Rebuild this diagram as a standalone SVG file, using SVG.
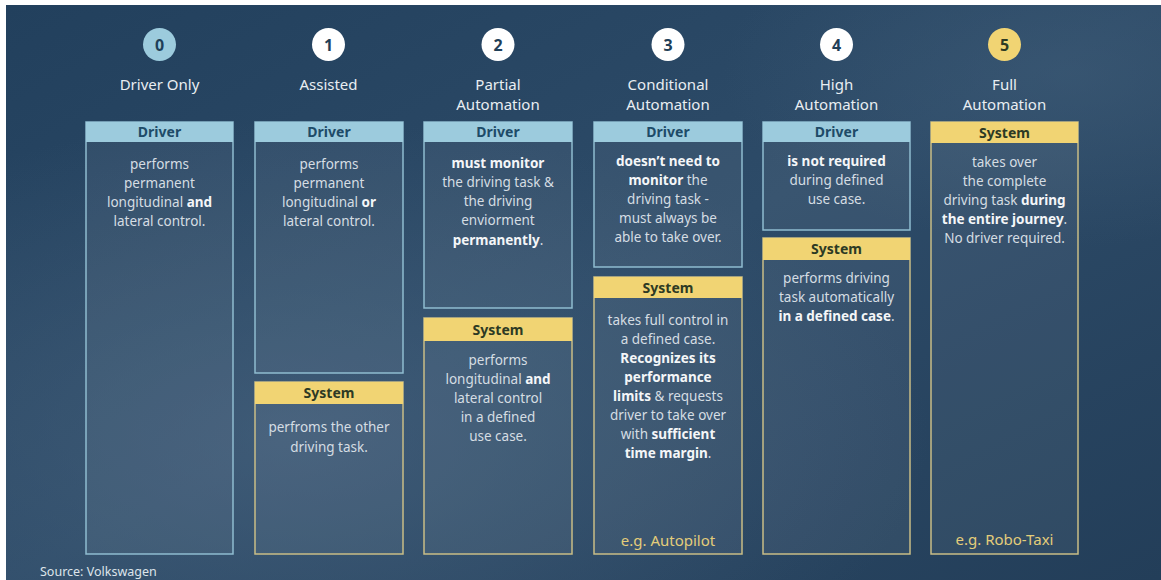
<svg xmlns="http://www.w3.org/2000/svg" width="1161" height="580" viewBox="0 0 1161 580">
<defs>
<linearGradient id="bg" x1="0" y1="0" x2="1" y2="1">
<stop offset="0" stop-color="#22405d"/>
<stop offset="0.5" stop-color="#2d4b68"/>
<stop offset="1" stop-color="#233e59"/>
</linearGradient>
<radialGradient id="glow" cx="0.25" cy="0.75" r="0.55">
<stop offset="0" stop-color="#4a6580" stop-opacity="0.6"/>
<stop offset="1" stop-color="#4a6580" stop-opacity="0"/>
</radialGradient>
<radialGradient id="glow2" cx="0.92" cy="0.12" r="0.3">
<stop offset="0" stop-color="#44617c" stop-opacity="0.45"/>
<stop offset="1" stop-color="#44617c" stop-opacity="0"/>
</radialGradient>
</defs>
<style>
text{font-family:"Noto Sans","Open Sans","Liberation Sans",sans-serif;text-anchor:middle}
.num{font-size:16px;font-weight:700;fill:#1f3f58}
.title{font-size:15px;fill:#e9eef2}
.dh{fill:#9ccbdd}
.sh{fill:#f1d473}
.dht{font-size:14px;font-weight:700;fill:#1e4b68}
.sht{font-size:14px;font-weight:700;fill:#2d3a24}
.db{fill:#ffffff;fill-opacity:0.06;stroke:#8fbcd0;stroke-width:1.5}
.sb{fill:#ffffff;fill-opacity:0.06;stroke:#c9bd86;stroke-width:1.5}
.body{font-size:13.5px;fill:#d5dde3}
.b{font-weight:700;fill:#f4f6f8}
.eg{font-size:15px;fill:#e4cd7a}
.src{font-size:12.5px;fill:#dde4ea;text-anchor:start}
</style>
<rect x="0" y="0" width="1161" height="580" fill="#ffffff"/>
<rect x="6" y="5" width="1155" height="575" fill="url(#bg)"/>
<rect x="6" y="5" width="1155" height="575" fill="url(#glow)"/>
<rect x="6" y="5" width="1155" height="575" fill="url(#glow2)"/>

<g id="connectors"/>

<g id="level0">
<circle cx="159.5" cy="44.5" r="16.5" fill="#9ccbdd"/>
<text class="num" x="159.5" y="50.5">0</text>
<text class="title" x="159.5" y="90">Driver Only</text>
<rect class="db" x="86" y="122" width="147" height="432"/>
<rect class="dh" x="86" y="122" width="147" height="20"/>
<text class="dht" x="159.5" y="137">Driver</text>
<text class="body" x="159.5" y="169">performs</text>
<text class="body" x="159.5" y="188">permanent</text>
<text class="body" x="159.5" y="207">longitudinal <tspan class="b">and</tspan></text>
<text class="body" x="159.5" y="226">lateral control.</text>
</g>

<g id="level1">
<circle cx="328.5" cy="44.5" r="16.5" fill="#ffffff"/>
<text class="num" x="328.5" y="50.5">1</text>
<text class="title" x="328.5" y="90">Assisted</text>
<rect class="db" x="255" y="122" width="148" height="251"/>
<rect class="dh" x="255" y="122" width="148" height="20"/>
<text class="dht" x="329" y="137">Driver</text>
<text class="body" x="329" y="169">performs</text>
<text class="body" x="329" y="188">permanent</text>
<text class="body" x="329" y="207">longitudinal <tspan class="b">or</tspan></text>
<text class="body" x="329" y="226">lateral control.</text>
<rect class="sb" x="255" y="382" width="148" height="172"/>
<rect class="sh" x="255" y="382" width="148" height="22"/>
<text class="sht" x="329" y="398">System</text>
<text class="body" x="329" y="432">perfroms the other</text>
<text class="body" x="329" y="452">driving task.</text>
</g>

<g id="level2">
<circle cx="498" cy="44.5" r="16.5" fill="#ffffff"/>
<text class="num" x="498" y="50.5">2</text>
<text class="title" x="498" y="90">Partial</text>
<text class="title" x="498" y="110">Automation</text>
<rect class="db" x="424" y="122" width="148" height="186"/>
<rect class="dh" x="424" y="122" width="148" height="20"/>
<text class="dht" x="498" y="137">Driver</text>
<text class="body b" x="498" y="168">must monitor</text>
<text class="body" x="498" y="187">the driving task &amp;</text>
<text class="body" x="498" y="206">the driving</text>
<text class="body" x="498" y="225">enviorment</text>
<text class="body" x="498" y="245"><tspan class="b">permanently</tspan>.</text>
<rect class="sb" x="424" y="318" width="148" height="236"/>
<rect class="sh" x="424" y="318" width="148" height="23"/>
<text class="sht" x="498" y="335">System</text>
<text class="body" x="498" y="365">performs</text>
<text class="body" x="498" y="384">longitudinal <tspan class="b">and</tspan></text>
<text class="body" x="498" y="403">lateral control</text>
<text class="body" x="498" y="422">in a defined</text>
<text class="body" x="498" y="441">use case.</text>
</g>

<g id="level3">
<circle cx="668" cy="44.5" r="16.5" fill="#ffffff"/>
<text class="num" x="668" y="50.5">3</text>
<text class="title" x="668" y="90">Conditional</text>
<text class="title" x="668" y="110">Automation</text>
<rect class="db" x="594" y="122" width="148" height="145"/>
<rect class="dh" x="594" y="122" width="148" height="20"/>
<text class="dht" x="668" y="137">Driver</text>
<text class="body b" x="668" y="166">doesn’t need to</text>
<text class="body" x="668" y="185"><tspan class="b">monitor</tspan> the</text>
<text class="body" x="668" y="204">driving task -</text>
<text class="body" x="668" y="223">must always be</text>
<text class="body" x="668" y="242">able to take over.</text>
<rect class="sb" x="594" y="277" width="148" height="277"/>
<rect class="sh" x="594" y="277" width="148" height="21"/>
<text class="sht" x="668" y="293">System</text>
<text class="body" x="668" y="325">takes full control in</text>
<text class="body" x="668" y="344">a defined case.</text>
<text class="body b" x="668" y="363">Recognizes its</text>
<text class="body b" x="668" y="382">performance</text>
<text class="body" x="668" y="401"><tspan class="b">limits</tspan> &amp; requests</text>
<text class="body" x="668" y="420">driver to take over</text>
<text class="body" x="668" y="439">with <tspan class="b">sufficient</tspan></text>
<text class="body" x="668" y="458"><tspan class="b">time margin</tspan>.</text>
<text class="eg" x="668" y="546">e.g. Autopilot</text>
</g>

<g id="level4">
<circle cx="836.5" cy="44.5" r="16.5" fill="#ffffff"/>
<text class="num" x="836.5" y="50.5">4</text>
<text class="title" x="836.5" y="90">High</text>
<text class="title" x="836.5" y="110">Automation</text>
<rect class="db" x="763" y="122" width="147" height="108"/>
<rect class="dh" x="763" y="122" width="147" height="20"/>
<text class="dht" x="836.5" y="137">Driver</text>
<text class="body b" x="836.5" y="166">is not required</text>
<text class="body" x="836.5" y="185">during defined</text>
<text class="body" x="836.5" y="204">use case.</text>
<rect class="sb" x="763" y="238" width="147" height="316"/>
<rect class="sh" x="763" y="238" width="147" height="22"/>
<text class="sht" x="836.5" y="254">System</text>
<text class="body" x="836.5" y="283">performs driving</text>
<text class="body" x="836.5" y="302">task automatically</text>
<text class="body" x="836.5" y="321"><tspan class="b">in a defined case</tspan>.</text>
</g>

<g id="level5">
<circle cx="1004.5" cy="44.5" r="16.5" fill="#f1d473"/>
<text class="num" x="1004.5" y="50.5" style="fill:#2d3a24">5</text>
<text class="title" x="1004.5" y="90">Full</text>
<text class="title" x="1004.5" y="110">Automation</text>
<rect class="sb" x="931" y="122" width="147" height="432"/>
<rect class="sh" x="931" y="122" width="147" height="21"/>
<text class="sht" x="1004.5" y="138">System</text>
<text class="body" x="1004.5" y="167">takes over</text>
<text class="body" x="1004.5" y="186">the complete</text>
<text class="body" x="1004.5" y="205">driving task <tspan class="b">during</tspan></text>
<text class="body" x="1004.5" y="224"><tspan class="b">the entire journey</tspan>.</text>
<text class="body" x="1004.5" y="243">No driver required.</text>
<text class="eg" x="1004.5" y="545">e.g. Robo-Taxi</text>
</g>

<text class="src" x="40" y="576">Source: Volkswagen</text>
</svg>
